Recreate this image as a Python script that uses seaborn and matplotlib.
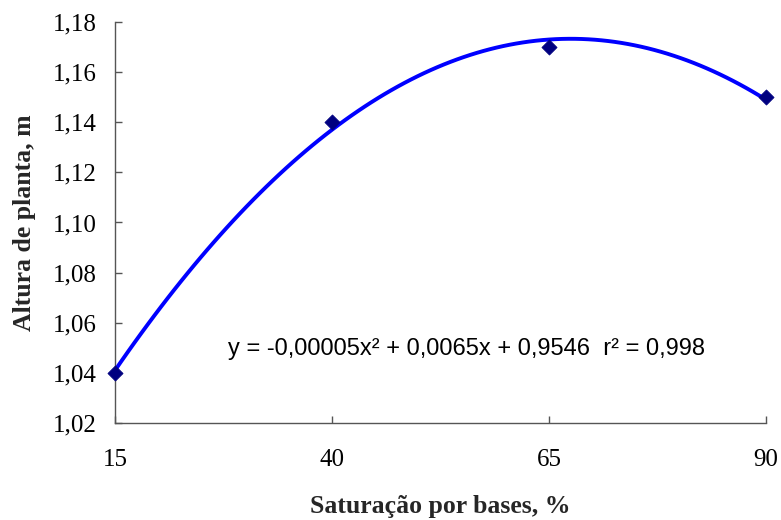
import matplotlib
matplotlib.use("Agg")
import matplotlib.pyplot as plt
import seaborn as sns
import pandas as pd

# Data
saturacao = [15, 40, 65, 90]
altura = [1.04, 1.14, 1.17, 1.15]
x_ticks = [15, 40, 65, 90]
y_ticks = [1.02, 1.04, 1.06, 1.08, 1.10, 1.12, 1.14, 1.16, 1.18]
equation = "y = -0,00005x² + 0,0065x + 0,9546  r² = 0,998"

df = pd.DataFrame({"x": saturacao, "y": altura})

sns.set_theme(style="white")
plt.rcParams["font.family"] = ["Liberation Serif", "DejaVu Serif"]

fig = plt.figure(figsize=(7.81, 5.20), dpi=100)
ax = fig.add_axes([115 / 781, 1 - 423 / 520, 651 / 781, 401 / 520])

sns.regplot(data=df, x="x", y="y", order=2, ci=None, scatter=False,
            color="#0000FF", line_kws={"lw": 2.8, "zorder": 2}, ax=ax)
sns.scatterplot(data=df, x="x", y="y", marker="D", s=60, color="#000080",
                edgecolor="#000080", linewidth=0.5, zorder=3, ax=ax, clip_on=False)

ax.set_xlim(15, 90)
ax.set_ylim(1.02, 1.18)
ax.set_xticks(x_ticks)
ax.set_xticklabels([str(v) for v in x_ticks])
ax.set_yticks(y_ticks)
ax.set_yticklabels([f"{v:.2f}".replace(".", ",") for v in y_ticks])

for s in ["top", "right"]:
    ax.spines[s].set_visible(False)
for s in ["left", "bottom"]:
    ax.spines[s].set_color("#555555")
    ax.spines[s].set_linewidth(1.0)

ax.tick_params(axis="both", direction="in", length=5, width=1.0, color="#555555",
               labelsize=18, labelcolor="black")
ax.tick_params(axis="y", pad=13, left=True)
ax.tick_params(axis="x", pad=19, bottom=True)

ax.set_xlabel("Saturação por bases, %", fontsize=18.5, fontweight="bold")
ax.set_ylabel("Altura de planta, m", fontsize=18.5, fontweight="bold")
ax.xaxis.label.set_va("center")
ax.yaxis.label.set_va("center")
ax.xaxis.set_label_coords(0.5, (423 - 507) / 401)
ax.yaxis.set_label_coords((24 - 115) / 651, 0.5)

ax.text(28.0, 1.0495, equation, fontsize=17, family=["Liberation Sans", "DejaVu Sans"],
        ha="left", va="center", color="black")

fig.savefig("out.png", dpi=100, facecolor="white")
